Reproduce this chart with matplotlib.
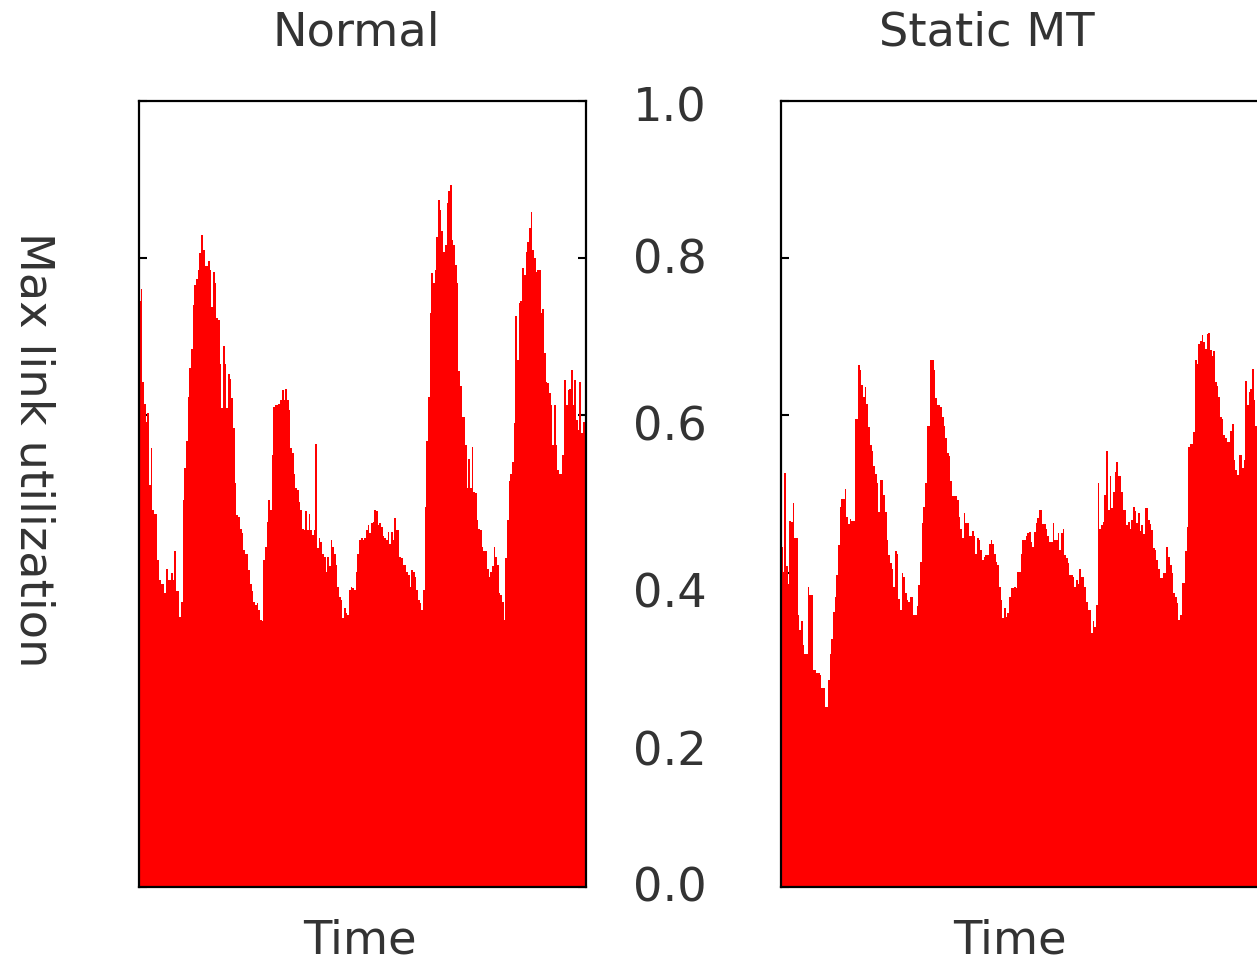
"""
Max link utilization over time: Normal vs Static MT
"""

import matplotlib
matplotlib.use('Agg')
import matplotlib.pyplot as plt
import numpy as np
from matplotlib.transforms import ScaledTranslation, blended_transform_factory

# Max link utilization per time step
normal = [
    0.745, 0.761, 0.643, 0.615, 0.591, 0.603, 0.511, 0.558, 0.480, 0.475,
    0.475, 0.416, 0.391, 0.386, 0.386, 0.374, 0.405, 0.391, 0.391, 0.399,
    0.391, 0.427, 0.376, 0.376, 0.344, 0.363, 0.492, 0.533, 0.567, 0.624,
    0.660, 0.685, 0.740, 0.766, 0.774, 0.785, 0.806, 0.830, 0.810, 0.790,
    0.790, 0.796, 0.785, 0.738, 0.783, 0.768, 0.724, 0.721, 0.666, 0.609,
    0.688, 0.666, 0.610, 0.653, 0.646, 0.622, 0.584, 0.514, 0.473, 0.471,
    0.456, 0.450, 0.429, 0.424, 0.424, 0.403, 0.386, 0.376, 0.363, 0.359,
    0.361, 0.352, 0.340, 0.338, 0.416, 0.433, 0.465, 0.492, 0.480, 0.550,
    0.611, 0.613, 0.613, 0.615, 0.620, 0.632, 0.620, 0.634, 0.620, 0.607,
    0.558, 0.552, 0.526, 0.507, 0.505, 0.490, 0.480, 0.456, 0.454, 0.478,
    0.454, 0.475, 0.454, 0.448, 0.454, 0.564, 0.431, 0.444, 0.439, 0.424,
    0.420, 0.401, 0.420, 0.408, 0.441, 0.433, 0.424, 0.410, 0.382, 0.369,
    0.365, 0.342, 0.355, 0.348, 0.346, 0.378, 0.382, 0.380, 0.378, 0.401,
    0.424, 0.441, 0.444, 0.441, 0.444, 0.454, 0.461, 0.450, 0.463, 0.465,
    0.480, 0.478, 0.461, 0.463, 0.458, 0.446, 0.444, 0.441, 0.452, 0.437,
    0.452, 0.441, 0.469, 0.454, 0.454, 0.420, 0.418, 0.410, 0.410, 0.401,
    0.397, 0.382, 0.403, 0.401, 0.395, 0.378, 0.365, 0.361, 0.352, 0.378,
    0.484, 0.567, 0.624, 0.730, 0.781, 0.768, 0.785, 0.827, 0.874, 0.861,
    0.834, 0.808, 0.817, 0.870, 0.885, 0.893, 0.823, 0.817, 0.791, 0.768,
    0.656, 0.637, 0.598, 0.598, 0.562, 0.507, 0.545, 0.507, 0.560, 0.503,
    0.501, 0.467, 0.456, 0.454, 0.433, 0.427, 0.427, 0.405, 0.395, 0.401,
    0.408, 0.433, 0.420, 0.410, 0.374, 0.372, 0.363, 0.340, 0.418, 0.467,
    0.516, 0.526, 0.541, 0.590, 0.726, 0.670, 0.743, 0.745, 0.787, 0.779,
    0.808, 0.821, 0.838, 0.859, 0.810, 0.800, 0.783, 0.785, 0.785, 0.730,
    0.736, 0.679, 0.643, 0.641, 0.628, 0.613, 0.562, 0.613, 0.562, 0.530,
    0.526, 0.526, 0.550, 0.645, 0.613, 0.632, 0.634, 0.658, 0.613, 0.645,
    0.594, 0.581, 0.643, 0.577, 0.592, 0.592,
]

static_mt = [
    0.433, 0.401, 0.527, 0.408, 0.385, 0.466, 0.465, 0.488, 0.444, 0.444,
    0.346, 0.327, 0.338, 0.308, 0.297, 0.297, 0.382, 0.372, 0.372, 0.276,
    0.276, 0.272, 0.272, 0.270, 0.253, 0.253, 0.229, 0.229, 0.263, 0.297,
    0.316, 0.350, 0.369, 0.397, 0.435, 0.484, 0.494, 0.494, 0.506, 0.471,
    0.462, 0.468, 0.466, 0.466, 0.596, 0.596, 0.664, 0.658, 0.639, 0.623,
    0.636, 0.615, 0.585, 0.562, 0.555, 0.536, 0.526, 0.514, 0.477, 0.518,
    0.518, 0.499, 0.477, 0.442, 0.422, 0.412, 0.405, 0.382, 0.428, 0.424,
    0.367, 0.352, 0.399, 0.395, 0.374, 0.365, 0.363, 0.369, 0.369, 0.346,
    0.346, 0.357, 0.384, 0.414, 0.463, 0.483, 0.514, 0.586, 0.586, 0.670,
    0.670, 0.658, 0.622, 0.613, 0.613, 0.611, 0.598, 0.586, 0.571, 0.552,
    0.548, 0.516, 0.497, 0.497, 0.497, 0.492, 0.471, 0.456, 0.444, 0.476,
    0.463, 0.463, 0.446, 0.446, 0.453, 0.446, 0.424, 0.444, 0.441, 0.429,
    0.416, 0.420, 0.422, 0.422, 0.437, 0.441, 0.436, 0.424, 0.414, 0.410,
    0.382, 0.365, 0.342, 0.355, 0.344, 0.348, 0.369, 0.380, 0.380, 0.382,
    0.380, 0.401, 0.401, 0.424, 0.441, 0.441, 0.446, 0.450, 0.452, 0.439,
    0.433, 0.452, 0.463, 0.469, 0.480, 0.480, 0.462, 0.462, 0.456, 0.446,
    0.439, 0.439, 0.463, 0.441, 0.441, 0.450, 0.429, 0.450, 0.456, 0.422,
    0.418, 0.412, 0.397, 0.397, 0.395, 0.382, 0.390, 0.386, 0.404, 0.395,
    0.395, 0.382, 0.363, 0.353, 0.353, 0.323, 0.338, 0.331, 0.359, 0.514,
    0.456, 0.461, 0.465, 0.499, 0.555, 0.480, 0.523, 0.482, 0.503, 0.528,
    0.541, 0.523, 0.523, 0.503, 0.480, 0.480, 0.461, 0.465, 0.455, 0.467,
    0.484, 0.478, 0.463, 0.476, 0.453, 0.461, 0.449, 0.482, 0.482, 0.467,
    0.462, 0.454, 0.431, 0.429, 0.416, 0.405, 0.393, 0.393, 0.399, 0.399,
    0.433, 0.420, 0.410, 0.399, 0.374, 0.369, 0.361, 0.340, 0.346, 0.387,
    0.387, 0.427, 0.458, 0.560, 0.564, 0.564, 0.579, 0.670, 0.666, 0.691,
    0.695, 0.702, 0.694, 0.684, 0.703, 0.705, 0.683, 0.675, 0.682, 0.643,
    0.637, 0.624, 0.598, 0.596, 0.575, 0.571, 0.566, 0.566, 0.580, 0.589,
    0.543, 0.530, 0.524, 0.550, 0.550, 0.533, 0.543, 0.644, 0.613, 0.630,
    0.634, 0.659, 0.620, 0.586,
]

panel_titles = ['Normal', 'Static MT']
yticks = [0.0, 0.2, 0.4, 0.6, 0.8, 1.0]
ytick_labels = ['0.0', '0.2', '0.4', '0.6', '0.8', '1.0']

W, H = 1257, 959
TEXT = '#333333'
FS = 33.4


def px_box(x0, y0, x1, y1):
    # pixel box (top-left origin) -> figure fraction rect
    return [x0 / W, 1 - y1 / H, (x1 - x0) / W, (y1 - y0) / H]


def fx(x):
    return x / W


def fy(y):
    return 1 - y / H


fig = plt.figure(figsize=(W / 100, H / 100), dpi=100)
ax1 = fig.add_axes(px_box(139, 101, 586, 887))
ax2 = fig.add_axes(px_box(781, 101, 1257, 887))

for ax, vals in [(ax1, normal), (ax2, static_mt)]:
    edges = np.arange(len(vals) + 1)
    ax.stairs(vals, edges, fill=True, color='#ff0000', linewidth=0)
    ax.set_xlim(0, len(vals))
    ax.set_ylim(0, 1)
    ax.set_xticks([])
    ax.set_yticks(yticks)
    ax.set_axisbelow(True)
    ax.tick_params(axis='y', direction='in', length=6, width=1.5,
                   color='black', labelleft=False, left=True, right=True)
    for sp in ax.spines.values():
        sp.set_linewidth(1.6)
        sp.set_color('black')

# right panel runs off the edge of the figure
ax2.spines['right'].set_visible(False)
ax2.tick_params(axis='y', right=False)

# titles and x labels
fig.text(fx(356.5), fy(45), panel_titles[0], ha='center', va='baseline',
         fontsize=FS, color=TEXT)
fig.text(fx(986.5), fy(45), panel_titles[1], ha='center', va='baseline',
         fontsize=FS, color=TEXT)
fig.text(fx(359.5), fy(953), 'Time', ha='center', va='baseline',
         fontsize=FS, color=TEXT)
fig.text(fx(1009.5), fy(953), 'Time', ha='center', va='baseline',
         fontsize=FS, color=TEXT)

# shared y label on the far left
fig.text(fx(33), fy(450), 'Max link utilization', rotation=270,
         ha='center', va='center', fontsize=FS, color=TEXT)

# y tick labels sit in the gap between the panels
nudge_px = [15, 36, 35, 25, 15, 21]   # baseline offset below tick
trans = blended_transform_factory(fig.transFigure, ax1.transData)
for v, lab, dn in zip(yticks, ytick_labels, nudge_px):
    t = trans + ScaledTranslation(0, -dn / 100, fig.dpi_scale_trans)
    fig.text(fx(707), v, lab, transform=t, ha='right', va='baseline',
             fontsize=FS, color=TEXT)

fig.savefig('out.png', dpi=100)
